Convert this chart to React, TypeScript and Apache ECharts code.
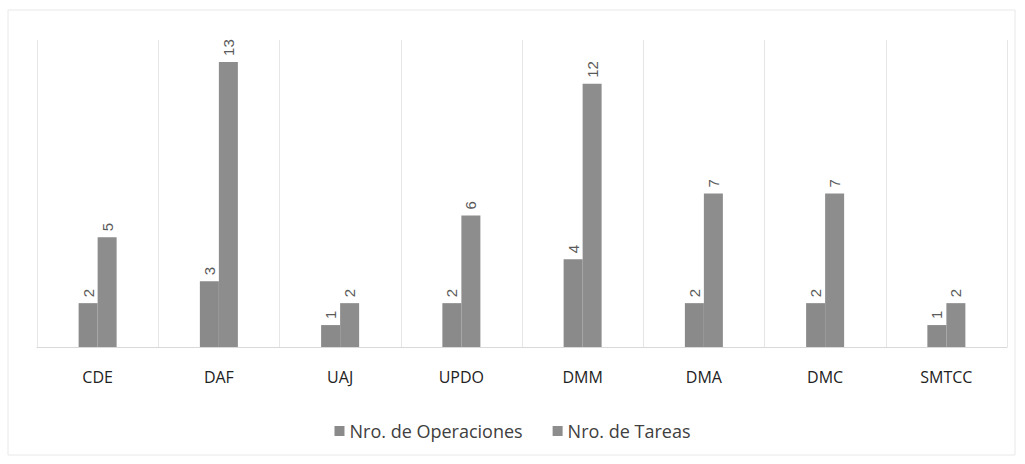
import React, { useEffect, useRef } from "react";
import * as echarts from "echarts";

const categories = ["CDE", "DAF", "UAJ", "UPDO", "DMM", "DMA", "DMC", "SMTCC"];
const operaciones = [2, 3, 1, 2, 4, 2, 2, 1];
const tareas = [5, 13, 2, 6, 12, 7, 7, 2];
const seriesNames = ["Nro. de Operaciones", "Nro. de Tareas"];

export default function App() {
  const ref = useRef<HTMLDivElement>(null);
  useEffect(() => {
    if (!ref.current) return;
    const chart = echarts.init(ref.current, null, { renderer: "svg" });
    const label = {
      show: true,
      position: "top",
      rotate: 90,
      align: "left",
      verticalAlign: "middle",
      distance: 6,
      color: "#5a5a5a",
      fontSize: 15,
      fontFamily: "Liberation Sans",
    };
    chart.setOption({
      animation: false,
      backgroundColor: "#ffffff",
      graphic: [
        {
          type: "rect",
          shape: { x: 8, y: 10, width: 1007, height: 445 },
          style: { fill: "none", stroke: "#e8e8e8", lineWidth: 1 },
          silent: true,
        },
      ],
      grid: { left: 37, right: 18, top: 40, bottom: 117 },
      legend: {
        bottom: 19,
        left: "center",
        itemWidth: 10,
        itemHeight: 10,
        itemGap: 30,
        icon: "rect",
        textStyle: { color: "#404040", fontSize: 18, fontFamily: "Open Sans" },
        data: seriesNames,
      },
      xAxis: {
        type: "category",
        data: categories,
        axisTick: { show: false },
        axisLine: { lineStyle: { color: "#d9d9d9" } },
        axisLabel: { color: "#222", fontSize: 16, margin: 22, fontFamily: "Open Sans" },
        splitLine: { show: true, lineStyle: { color: "#e6e6e6" } },
      },
      yAxis: {
        type: "value",
        min: 0,
        max: 14,
        show: false,
        splitLine: { show: false },
      },
      series: [
        {
          name: seriesNames[0],
          type: "bar",
          data: operaciones,
          barWidth: 19,
          barGap: "0%",
          itemStyle: { color: "#8a8a8a" },
          label,
        },
        {
          name: seriesNames[1],
          type: "bar",
          data: tareas,
          barWidth: 19,
          barGap: "0%",
          itemStyle: { color: "#8d8d8d" },
          label,
        },
      ],
    });
    return () => chart.dispose();
  }, []);
  return (
    <div
      ref={ref}
      style={{ position: "fixed", left: 0, top: 0, width: 1025, height: 464 }}
    />
  );
}
